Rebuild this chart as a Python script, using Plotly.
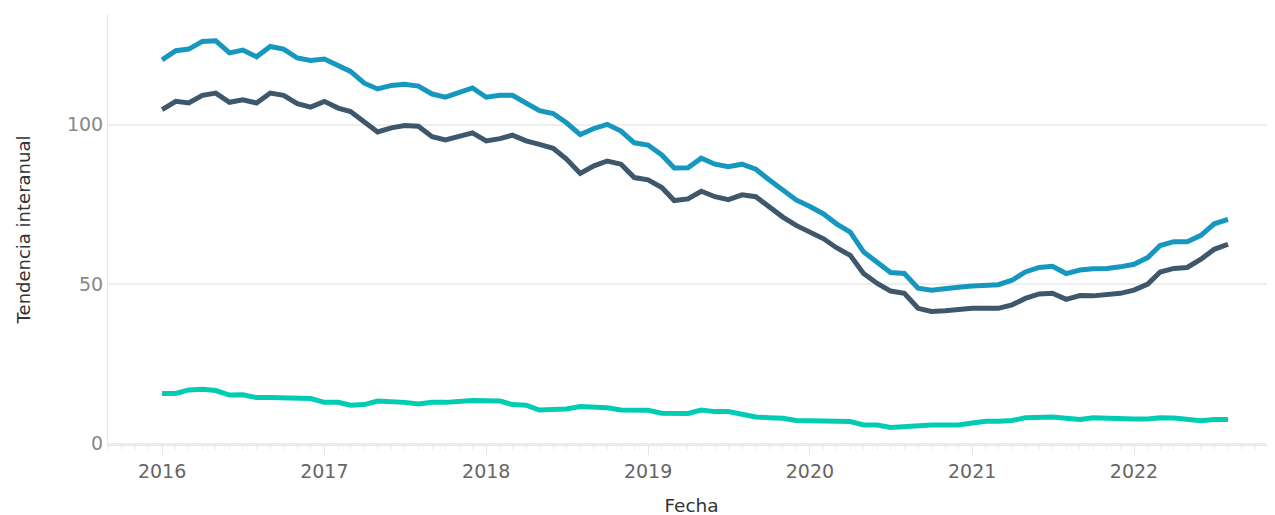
import pandas as pd
import plotly.graph_objects as go

fechas = pd.date_range("2016-01-01", "2022-08-01", freq="MS")

serie_total = [
    120.3, 123.2, 123.7, 126.1, 126.3, 122.5, 123.4, 121.3, 124.5, 123.7, 120.9, 120.1,
    120.6, 118.5, 116.7, 113.0, 111.2, 112.3, 112.7, 112.1, 109.6, 108.6, 110.2, 111.5,
    108.6, 109.2, 109.2, 106.8, 104.4, 103.5, 100.6, 96.9, 98.8, 100.1, 98.0, 94.3,
    93.6, 90.5, 86.4, 86.5, 89.5, 87.6, 86.8, 87.6, 86.0, 82.7, 79.5, 76.4,
    74.3, 72.0, 68.9, 66.3, 60.1, 56.9, 53.6, 53.3, 48.7, 48.1, 48.4, 49.0,
    49.4, 49.8, 49.8, 51.2, 53.8, 55.2, 55.6, 53.3, 54.4, 54.8, 54.9, 55.4,
    56.2, 58.3, 62.1, 63.3, 63.3, 65.3, 68.9, 70.3,
]

serie_media = [
    104.7, 107.3, 106.8, 109.2, 109.9, 107.0, 107.8, 106.8, 109.9, 109.2, 106.6, 105.5,
    107.3, 105.2, 104.1, 100.6, 97.7, 99.0, 99.7, 99.5, 96.2, 95.2, 96.4, 97.4,
    94.9, 95.6, 96.7, 94.9, 93.8, 92.6, 89.2, 84.7, 87.1, 88.6, 87.6, 83.4,
    82.7, 80.3, 76.2, 76.7, 79.1, 77.4, 76.5, 78.0, 77.4, 74.1, 71.0, 68.4,
    66.3, 64.2, 61.4, 59.0, 53.3, 50.2, 47.8, 47.1, 42.4, 41.4, 41.6, 42.1,
    42.4, 42.4, 42.4, 43.5, 45.5, 46.9, 47.1, 45.2, 46.4, 46.3, 46.6, 47.1,
    48.1, 50.0, 53.8, 54.9, 55.2, 57.8, 60.9, 62.5,
]

serie_baja = [
    15.7, 15.7, 16.8, 17.0, 16.6, 15.2, 15.3, 14.4, 14.4, 14.4, 14.2, 14.1,
    12.9, 12.9, 12.0, 12.2, 13.3, 13.2, 12.9, 12.4, 12.9, 12.9, 13.4, 13.5,
    13.4, 13.3, 12.2, 12.0, 10.5, 10.6, 10.8, 11.6, 11.3, 11.2, 10.5, 10.5,
    10.4, 9.5, 9.6, 9.4, 10.5, 10.0, 10.0, 9.2, 8.3, 8.1, 7.9, 7.2,
    7.2, 7.2, 7.0, 6.9, 5.8, 5.8, 5.0, 5.3, 5.8, 5.8, 5.8, 5.8,
    6.4, 7.0, 7.0, 7.2, 8.1, 8.1, 8.3, 7.9, 7.5, 8.1, 7.9, 7.9,
    7.7, 7.7, 8.1, 8.0, 7.7, 7.1, 7.5, 7.5,
]

y_ticks = [0, 50, 100]
x_range = ["2015-09-01", "2022-11-15"]

colores = {"total": "#1597C0", "media": "#3E576A", "baja": "#00CCB4"}

fig = go.Figure()
for nombre, valores in [("total", serie_total), ("media", serie_media), ("baja", serie_baja)]:
    fig.add_trace(go.Scatter(
        x=fechas, y=valores, mode="lines", name=nombre,
        line=dict(color=colores[nombre], width=5),
        showlegend=False,
    ))

fig.update_layout(
    width=1275, height=515,
    margin=dict(l=100, r=8, t=6, b=78),
    paper_bgcolor="white", plot_bgcolor="white",
    font=dict(family="DejaVu Sans", color="#333333"),
    xaxis=dict(
        type="date", range=x_range, automargin=False,
        dtick="M12", tick0="2016-01-01", tickformat="%Y",
        ticks="outside", ticklen=9, tickcolor="#e6e6e6", tickwidth=1,
        showline=True, linecolor="#e6e6e6", linewidth=1,
        showgrid=False, zeroline=False,
        tickfont=dict(size=19, color="#666666"),
        title=dict(text="Fecha", font=dict(size=18.5, color="#333333"), standoff=18),
        minor=dict(dtick="M1", ticks="outside", ticklen=4, tickcolor="#eeeeee", showgrid=False),
    ),
    yaxis=dict(
        range=[-0.47, 134.7], automargin=False,
        tickvals=y_ticks, ticktext=[str(v) for v in y_ticks],
        showgrid=True, gridcolor="#eeeeee", gridwidth=1.5,
        showline=True, linecolor="#e6e6e6", linewidth=1,
        zeroline=False, ticks="",
        tickfont=dict(size=19, color="#888888"),
        title=dict(text="Tendencia interanual", font=dict(size=18, color="#333333"), standoff=31),
    ),
)

fig.write_html("out.html")
